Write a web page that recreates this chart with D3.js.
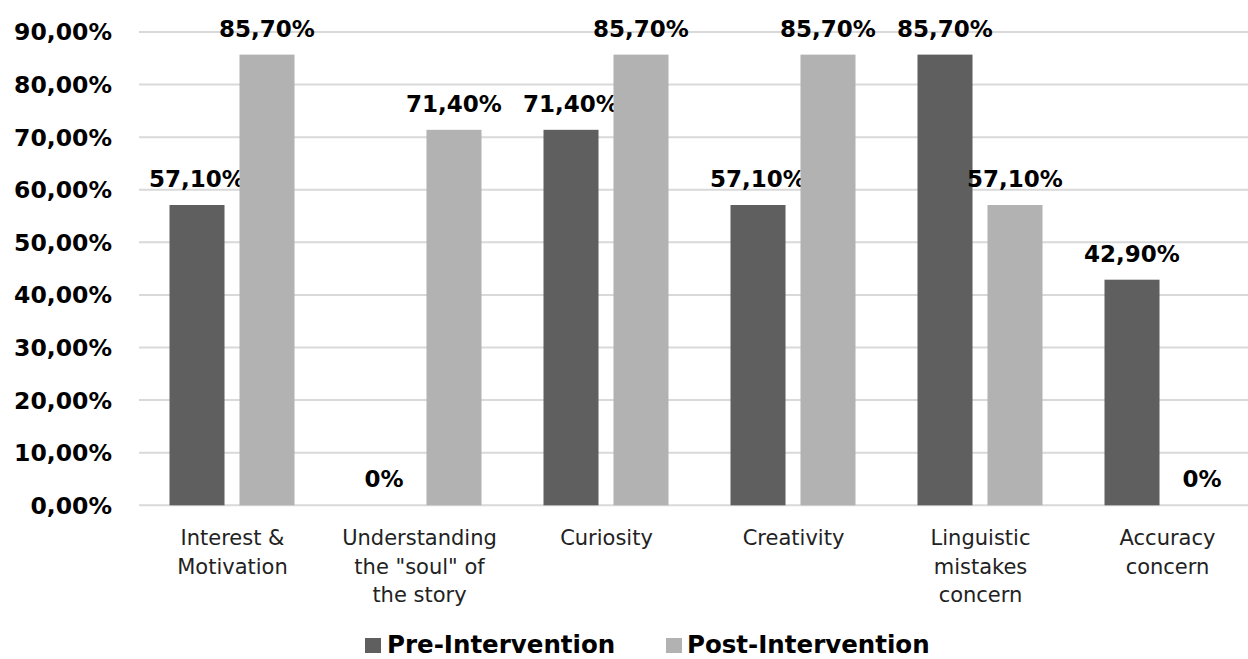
<!DOCTYPE html>
<html><head><meta charset="utf-8">
<script src="https://cdn.jsdelivr.net/npm/d3@7"></script>
<style>body{margin:0;background:#fff}svg{display:block}</style>
</head><body>
<svg id="c" width="1248" height="659"></svg>
<script>
const categories = [
  ["Interest &","Motivation"],
  ["Understanding","the \"soul\" of","the story"],
  ["Curiosity"],
  ["Creativity"],
  ["Linguistic","mistakes","concern"],
  ["Accuracy","concern"]
];
const seriesNames = ["Pre-Intervention","Post-Intervention"];
const preValues  = [57.1, 0, 71.4, 57.1, 85.7, 42.9];
const postValues = [85.7, 71.4, 85.7, 85.7, 57.1, 0];
const yTicks = [0,10,20,30,40,50,60,70,80,90];
const colors = ["#5f5f5f","#b2b2b2"];

const svg = d3.select("#c");
const FONT = "'DejaVu Sans', sans-serif";
const left = 139, bandW = 187;
const x = d3.scaleBand().domain(d3.range(categories.length))
  .range([left, left + bandW*categories.length]).paddingInner(0).paddingOuter(0);
const x1 = d3.scaleBand().domain([0,1]).range([30.5, 155.5]).paddingInner(0.214).paddingOuter(0);
const y = d3.scaleLinear().domain([0,90]).range([505.3, 32]);

const fmtTick = v => v.toFixed(2).replace(".",",") + "%";
const fmtVal = v => v === 0 ? "0%" : v.toFixed(2).replace(".",",") + "%";

// gridlines
svg.append("g").selectAll("line").data(yTicks).join("line")
  .attr("x1", left).attr("x2", 1248)
  .attr("y1", d => y(d)).attr("y2", d => y(d))
  .attr("stroke", "#d9d9d9").attr("stroke-width", 2);

// y axis labels
svg.append("g").selectAll("text").data(yTicks).join("text")
  .attr("x", 112).attr("y", d => y(d)).attr("dy", "0.36em")
  .attr("text-anchor", "end").attr("font-family", FONT).attr("font-weight", "bold")
  .attr("font-size", 23.5).attr("fill", "#000").text(fmtTick);

const series = [preValues, postValues];
series.forEach((vals, si) => {
  const g = svg.append("g");
  g.selectAll("rect").data(vals).join("rect")
    .attr("x", (d,i) => x(i) + x1(si))
    .attr("width", x1.bandwidth())
    .attr("y", d => y(d))
    .attr("height", d => y(0) - y(d))
    .attr("fill", colors[si]);
  g.selectAll("text").data(vals).join("text")
    .attr("x", (d,i) => x(i) + x1(si) + x1.bandwidth()/2)
    .attr("y", d => y(d) - 18)
    .attr("text-anchor", "middle").attr("font-family", FONT).attr("font-weight", "bold")
    .attr("font-size", 23).attr("fill", "#000").text(fmtVal);
});

// category labels
const cg = svg.append("g");
categories.forEach((lines, i) => {
  const t = cg.append("text").attr("text-anchor","middle")
    .attr("font-family", FONT).attr("font-size", 21).attr("fill","#222");
  lines.forEach((ln, k) => {
    t.append("tspan").attr("x", x(i) + bandW/2).attr("y", 545 + k*28.5).text(ln);
  });
});

// legend
const legend = [{x:365, tx:387},{x:666, tx:687}];
seriesNames.forEach((n, si) => {
  svg.append("rect").attr("x", legend[si].x).attr("y", 638).attr("width", 16).attr("height", 15)
    .attr("fill", colors[si]);
  svg.append("text").attr("x", legend[si].tx).attr("y", 653)
    .attr("font-family", FONT).attr("font-weight","bold").attr("font-size", 24.5)
    .attr("fill","#000").text(n);
});
</script>
</body></html>
